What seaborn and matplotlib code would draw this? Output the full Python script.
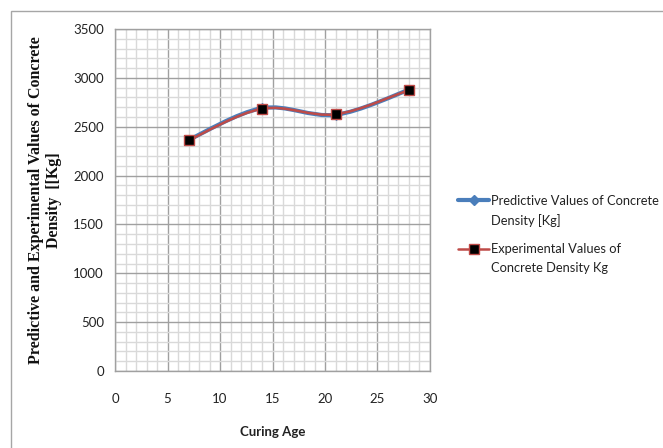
import numpy as np
import pandas as pd
import matplotlib
matplotlib.use("Agg")
import matplotlib.pyplot as plt
import seaborn as sns
from matplotlib.path import Path
from matplotlib.patches import PathPatch, Rectangle
from matplotlib.lines import Line2D
from matplotlib.ticker import MultipleLocator

curing_age = [7, 14, 21, 28]
predictive = [2365, 2690, 2622, 2878]
experimental = [2360, 2684, 2627, 2876]
x_ticks = [0, 5, 10, 15, 20, 25, 30]
y_ticks = [0, 500, 1000, 1500, 2000, 2500, 3000, 3500]
legend_lines = [['Predictive Values of Concrete', 'Density [Kg]'],
                ['Experimental Values of', 'Concrete Density Kg']]

sns.set_style("white")
plt.rcParams['font.family'] = ['Lato', 'DejaVu Sans']

W, H = 663, 448
fig = plt.figure(figsize=(6.63, 4.48), dpi=100)
ax = fig.add_axes([115/W, 1-371/H, 315/W, 342/H])

# outer chart border
fig.patches.append(Rectangle((11/W, -0.1), 1.1, 1-11/H+0.1, transform=fig.transFigure,
                             fill=False, edgecolor='#a6a6a6', linewidth=1.0, zorder=0))


def smooth_path(xs, ys):
    pts = np.column_stack([xs, ys]).astype(float)
    n = len(pts)
    verts = [pts[0]]
    codes = [Path.MOVETO]
    for i in range(n - 1):
        p0 = pts[i - 1] if i > 0 else pts[i]
        p1 = pts[i]
        p2 = pts[i + 1]
        p3 = pts[i + 2] if i + 2 < n else pts[i + 1]
        c1 = p1 + (p2 - p0) / 6.0
        c2 = p2 - (p3 - p1) / 6.0
        verts += [c1, c2, p2]
        codes += [Path.CURVE4] * 3
    return Path(verts, codes)

blue = '#4a7ebb'
red = '#be4b48'

ax.add_patch(PathPatch(smooth_path(curing_age, predictive), fill=False, edgecolor=blue,
                       linewidth=3.0, zorder=3, capstyle='round'))
ax.add_patch(PathPatch(smooth_path(curing_age, experimental), fill=False, edgecolor=red,
                       linewidth=1.8, zorder=4, capstyle='round'))

df = pd.DataFrame({'age': curing_age, 'pred': predictive, 'exp': experimental})
sns.lineplot(data=df, x='age', y='pred', ax=ax, linestyle='none', marker='D',
             markersize=5, color=blue, markeredgecolor=blue, zorder=5)
sns.lineplot(data=df, x='age', y='exp', ax=ax, linestyle='none', marker='s',
             markersize=6.5, color='black', markeredgecolor=red, markeredgewidth=1.0, zorder=6)

ax.set_xlim(0, 30)
ax.set_ylim(0, 3500)
ax.set_xticks(x_ticks)
ax.set_yticks(y_ticks)
ax.xaxis.set_minor_locator(MultipleLocator(1))
ax.yaxis.set_minor_locator(MultipleLocator(100))
ax.grid(which='minor', color='#d9d9d9', linewidth=1.0, zorder=0)
ax.grid(which='major', color='#a0a0a0', linewidth=1.0, zorder=1)
ax.set_axisbelow(True)
for s in ax.spines.values():
    s.set_color('#a0a0a0')
    s.set_linewidth(1.0)
ax.tick_params(axis='both', which='major', length=4, width=1, color='#a0a0a0',
               labelsize=9.5, labelcolor='#222222', direction='out')
ax.tick_params(axis='x', which='major', pad=12)
ax.tick_params(axis='y', which='major', pad=4)
ax.tick_params(which='minor', length=0)
ax.set_xticklabels([str(v) for v in x_ticks])
ax.set_yticklabels([str(v) for v in y_ticks])

ax.set_xlabel('Curing Age', fontsize=9.5, fontweight='bold', labelpad=15, color='#222222')
ax.set_ylabel('Predictive and Experimental Values of Concrete\nDensity  [[Kg]', fontsize=11.5,
              fontweight='bold', family=['Liberation Serif'], labelpad=8, linespacing=1.2,
              color='#111111')

# legend drawn in figure pixel coordinates (Excel style, handle aligned to first line)
def fx(px):
    return px / W

def fy(py):
    return 1 - py / H

entries = [
    dict(color=blue, lw=3.0, marker='D', ms=5, mfc=blue, mec=blue, y=200, ys=[201, 221]),
    dict(color=red, lw=1.8, marker='s', ms=6.5, mfc='black', mec=red, y=249, ys=[249, 268]),
]
for e, lines in zip(entries, legend_lines):
    fig.add_artist(Line2D([fx(458), fx(489)], [fy(e['y']), fy(e['y'])], transform=fig.transFigure,
                          color=e['color'], linewidth=e['lw']))
    fig.add_artist(Line2D([fx(473.5)], [fy(e['y'])], transform=fig.transFigure, linestyle='none',
                          marker=e['marker'], markersize=e['ms'], markerfacecolor=e['mfc'],
                          markeredgecolor=e['mec']))
    for txt, yy in zip(lines, e['ys']):
        fig.text(fx(491), fy(yy), txt, fontsize=9.3, color='#222222', ha='left', va='center')

fig.savefig('out.png', dpi=100)
